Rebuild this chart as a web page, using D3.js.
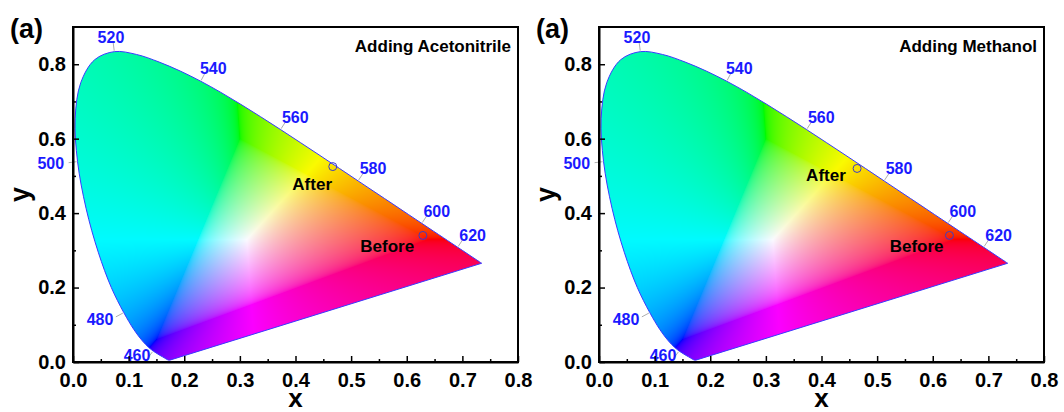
<!DOCTYPE html>
<html>
<head>
<meta charset="utf-8">
<script src="https://cdn.jsdelivr.net/npm/d3@7"></script>
<style>
  body { margin: 0; background: #fff; }
  svg { display: block; font-family: "Liberation Sans", Arial, sans-serif; }
</style>
</head>
<body>
<script>
// CIE 1931 2-degree spectral locus (chromaticity x, y), 5 nm steps
const locusNm = [380,385,390,395,400,405,410,415,420,425,430,435,440,445,450,455,460,465,470,475,
  480,485,490,495,500,505,510,515,520,525,530,535,540,545,550,555,560,565,570,575,
  580,585,590,595,600,605,610,615,620,625,630,635,640,645,650,655,660,665,670,675,
  680,685,690,695,700];
const locusX = [0.1741,0.1740,0.1738,0.1736,0.1733,0.1730,0.1726,0.1721,0.1714,0.1703,0.1689,0.1669,0.1644,0.1611,0.1566,0.1510,0.1440,0.1355,0.1241,0.1096,
  0.0913,0.0687,0.0454,0.0235,0.0082,0.0039,0.0139,0.0389,0.0743,0.1142,0.1547,0.1929,0.2296,0.2658,0.3016,0.3373,0.3731,0.4087,0.4441,0.4788,
  0.5125,0.5448,0.5752,0.6029,0.6270,0.6482,0.6658,0.6801,0.6915,0.7006,0.7079,0.7140,0.7190,0.7230,0.7260,0.7283,0.7300,0.7311,0.7320,0.7327,
  0.7334,0.7340,0.7344,0.7346,0.7347];
const locusY = [0.0050,0.0050,0.0049,0.0049,0.0048,0.0048,0.0048,0.0048,0.0051,0.0058,0.0069,0.0086,0.0109,0.0138,0.0177,0.0227,0.0297,0.0399,0.0578,0.0868,
  0.1327,0.2007,0.2950,0.4127,0.5384,0.6548,0.7502,0.8120,0.8338,0.8262,0.8059,0.7816,0.7543,0.7243,0.6923,0.6589,0.6245,0.5896,0.5547,0.5202,
  0.4866,0.4544,0.4242,0.3965,0.3725,0.3514,0.3340,0.3197,0.3083,0.2993,0.2920,0.2859,0.2809,0.2770,0.2740,0.2717,0.2700,0.2689,0.2680,0.2673,
  0.2666,0.2660,0.2656,0.2654,0.2653];

// wavelengths that carry a label
const labelNm = [460, 480, 500, 520, 540, 560, 580, 600, 620];

// axis ticks
const xTicks = [0.0, 0.1, 0.2, 0.3, 0.4, 0.5, 0.6, 0.7, 0.8];
const yTicks = [0.0, 0.2, 0.4, 0.6, 0.8];

// panels
const panelTags = ["(a)", "(a)"];
const panelTitles = ["Adding Acetonitrile", "Adding Methanol"];
const pointNames = ["Before", "After"];
const pointX = [[0.629, 0.467], [0.630, 0.464]];
const pointY = [[0.340, 0.525], [0.340, 0.520]];
// where the Before / After words sit (data units, text centre / baseline)
const nameX = [[0.565, 0.430], [0.571, 0.408]];
const nameY = [[0.296, 0.461], [0.296, 0.487]];

const W = 1064, H = 412;
const plotW = 445, plotH = 335, plotTop = 27;
const panelLeft = [73, 599];

const xs = d3.scaleLinear().domain([0, 0.8]).range([0, plotW]);
const ys = d3.scaleLinear().domain([0, 0.9]).range([plotH, 0]);

const svg = d3.select("body").append("svg").attr("width", W).attr("height", H);

const locusPts = locusNm.map((d, i) => [xs(locusX[i]), ys(locusY[i])]);
const locusPath = d3.line().curve(d3.curveCatmullRom.alpha(0.5))(locusPts) + "Z";

// xy chromaticity -> display colour (desaturate toward white, normalise to brightest channel)
function gamma(c) {
  return c <= 0.0031308 ? 12.92 * c : 1.055 * Math.pow(c, 1 / 2.4) - 0.055;
}
function xyToRgb(x, y) {
  if (y < 1e-4) y = 1e-4;
  const X = x / y, Y = 1, Z = (1 - x - y) / y;
  let r = 3.2406 * X - 1.5372 * Y - 0.4986 * Z;
  let g = -0.9689 * X + 1.8758 * Y + 0.0415 * Z;
  let b = 0.0557 * X - 0.2040 * Y + 1.0570 * Z;
  const lo = Math.min(r, g, b, 0);
  r -= lo; g -= lo; b -= lo;
  const m = Math.max(r, g, b) || 1;
  return [gamma(r / m), gamma(g / m), gamma(b / m)];
}

// paint the gamut once, clipped to the locus, and reuse it in both panels
function gamutImage() {
  const raw = document.createElement("canvas");
  raw.width = plotW; raw.height = plotH;
  const rc = raw.getContext("2d");
  const img = rc.createImageData(plotW, plotH);
  for (let py = 0; py < plotH; py++) {
    for (let px = 0; px < plotW; px++) {
      const c = xyToRgb(xs.invert(px + 0.5), ys.invert(py + 0.5));
      const k = (py * plotW + px) * 4;
      img.data[k] = c[0] * 250;
      img.data[k + 1] = c[1] * 250;
      img.data[k + 2] = c[2] * 255;
      img.data[k + 3] = 255;
    }
  }
  rc.putImageData(img, 0, 0);

  const out = document.createElement("canvas");
  out.width = plotW; out.height = plotH;
  const oc = out.getContext("2d");
  oc.clip(new Path2D(locusPath));
  oc.drawImage(raw, 0, 0);
  return out.toDataURL();
}
const gamutUrl = gamutImage();

// outward normal of the locus at a given wavelength (pixel space)
const white = [xs(0.3127), ys(0.329)];
function normalAt(nm) {
  const i = locusNm.indexOf(nm);
  const a = locusPts[i - 1], b = locusPts[i + 1], p = locusPts[i];
  let nx = b[1] - a[1], ny = -(b[0] - a[0]);
  const len = Math.hypot(nx, ny);
  nx /= len; ny /= len;
  if ((p[0] - white[0]) * nx + (p[1] - white[1]) * ny < 0) { nx = -nx; ny = -ny; }
  return [nx, ny];
}

function drawPanel(k) {
  const g = svg.append("g").attr("transform", "translate(" + panelLeft[k] + "," + plotTop + ")");

  g.append("image")
    .attr("href", gamutUrl)
    .attr("width", plotW).attr("height", plotH);

  // locus outline
  g.append("path")
    .attr("d", locusPath)
    .attr("fill", "none")
    .attr("stroke", "#3a3aff")
    .attr("stroke-width", 1);

  // wavelength leaders + labels
  labelNm.forEach(nm => {
    const i = locusNm.indexOf(nm);
    const p = locusPts[i];
    const n = normalAt(nm);
    g.append("line")
      .attr("x1", p[0] + n[0] * 1).attr("y1", p[1] + n[1] * 1)
      .attr("x2", p[0] + n[0] * 9).attr("y2", p[1] + n[1] * 9)
      .attr("stroke", "#999").attr("stroke-width", 0.8);
    g.append("text")
      .attr("x", p[0] + n[0] * 27)
      .attr("y", Math.min(p[1] + n[1] * 15, plotH - 7))
      .attr("dy", "0.36em")
      .attr("text-anchor", "middle")
      .attr("font-size", 16)
      .attr("font-weight", "bold")
      .attr("fill", "#1a1aff")
      .text(nm);
  });

  // measured points
  pointNames.forEach((name, j) => {
    g.append("circle")
      .attr("cx", xs(pointX[k][j])).attr("cy", ys(pointY[k][j]))
      .attr("r", 4)
      .attr("fill", "none")
      .attr("stroke", "#3b3bc8")
      .attr("stroke-width", 1);
    g.append("text")
      .attr("x", xs(nameX[k][j])).attr("y", ys(nameY[k][j]))
      .attr("text-anchor", "middle")
      .attr("font-size", 17)
      .attr("font-weight", "bold")
      .attr("fill", "#000")
      .text(name);
  });

  // frame
  g.append("rect")
    .attr("width", plotW).attr("height", plotH)
    .attr("fill", "none").attr("stroke", "#000").attr("stroke-width", 2);

  // minor ticks
  g.append("g")
    .attr("transform", "translate(0," + plotH + ")")
    .call(d3.axisBottom(xs).tickValues(d3.range(0.05, 0.8, 0.1)).tickSizeInner(-3).tickSizeOuter(0).tickFormat(""))
    .call(a => a.select(".domain").remove())
    .selectAll("line").attr("stroke-width", 1.5);
  g.append("g")
    .call(d3.axisLeft(ys).tickValues(d3.range(0.1, 0.9, 0.2)).tickSizeInner(-3).tickSizeOuter(0).tickFormat(""))
    .call(a => a.select(".domain").remove())
    .selectAll("line").attr("stroke-width", 1.5);

  // major axes
  const xa = g.append("g")
    .attr("transform", "translate(0," + plotH + ")")
    .call(d3.axisBottom(xs).tickValues(xTicks).tickSizeInner(-6).tickSizeOuter(0)
      .tickPadding(11).tickFormat(d3.format(".1f")));
  const ya = g.append("g")
    .call(d3.axisLeft(ys).tickValues(yTicks).tickSizeInner(-6).tickSizeOuter(0)
      .tickPadding(7).tickFormat(d3.format(".1f")));
  [xa, ya].forEach(a => {
    a.attr("font-family", null).attr("font-size", null);
    a.select(".domain").attr("stroke-width", 2);
    a.selectAll(".tick line").attr("stroke-width", 1.5);
    a.selectAll("text")
      .attr("font-size", 20)
      .attr("font-weight", "bold")
      .attr("fill", "#000");
  });

  // axis titles
  g.append("text")
    .attr("x", plotW / 2).attr("y", 379.5)
    .attr("text-anchor", "middle")
    .attr("font-size", 26).attr("font-weight", "bold")
    .text("x");
  g.append("text")
    .attr("transform", "translate(-44," + (plotH / 2) + ") rotate(-90)")
    .attr("text-anchor", "middle")
    .attr("font-size", 27).attr("font-weight", "bold")
    .text("y");

  // panel tag and title
  g.append("text")
    .attr("x", -63).attr("y", 11)
    .attr("font-size", 27).attr("font-weight", "bold")
    .text(panelTags[k]);
  g.append("text")
    .attr("x", plotW - 7).attr("y", 25)
    .attr("text-anchor", "end")
    .attr("font-size", 17).attr("font-weight", "bold")
    .text(panelTitles[k]);
}

drawPanel(0);
drawPanel(1);
</script>
</body>
</html>
